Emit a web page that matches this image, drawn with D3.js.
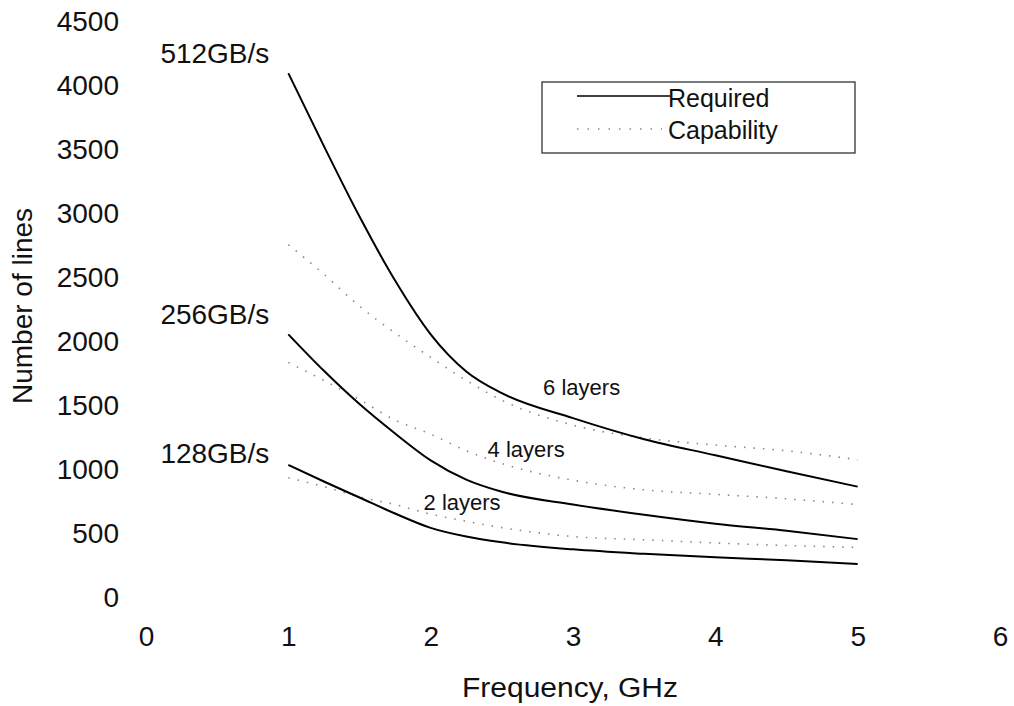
<!DOCTYPE html>
<html>
<head lang="en">
    <meta charset="UTF-8">
    <title>Number of lines vs frequency</title>
    <script type="text/javascript" src="https://cdn.jsdelivr.net/npm/d3@7/dist/d3.min.js"></script>
    <style>
        body { margin: 0; background: #fff; }
        text { font-family: "Liberation Sans", Arial, sans-serif; fill: #111; }
    </style>
</head>
<body>
<div class="holder"></div>

<script>
    // values
    var freq = [1, 1.25, 1.5, 1.75, 2, 2.25, 2.5, 3, 3.5, 4, 4.5, 5];

    var req512 = [4100, 3530, 2980, 2480, 2060, 1770, 1600, 1405, 1240, 1115, 990, 870];
    var req256 = [2060, 1775, 1515, 1285, 1075, 925, 830, 730, 650, 580, 525, 460];
    var req128 = [1040, 910, 785, 660, 548, 480, 435, 380, 345, 318, 295, 265];

    var cap6 = [2760, 2530, 2280, 2070, 1880, 1700, 1545, 1350, 1250, 1195, 1150, 1080];
    var cap4 = [1840, 1700, 1550, 1390, 1280, 1150, 1050, 920, 845, 810, 775, 730];
    var cap2 = [940, 870, 790, 730, 655, 600, 550, 480, 455, 430, 410, 395];

    var xTicks = [0, 1, 2, 3, 4, 5, 6];
    var yTicks = [0, 500, 1000, 1500, 2000, 2500, 3000, 3500, 4000, 4500];

    var rateLabels = [
        {text: "512GB/s", x: 1, y: 4258},
        {text: "256GB/s", x: 1, y: 2219},
        {text: "128GB/s", x: 1, y: 1133}
    ];
    var layerLabels = [
        {text: "6 layers", x: 2.79, y: 1648},
        {text: "4 layers", x: 2.40, y: 1164},
        {text: "2 layers", x: 1.95, y: 750}
    ];

    var svg = d3.select(".holder")
            .append("svg")
            .attr("width", 1014)
            .attr("height", 706);

    var x = d3.scaleLinear().domain([0, 6]).range([146, 1000]);
    var y = d3.scaleLinear().domain([0, 4500]).range([598, 22]);

    // axes: labels only, no lines
    svg.append("g")
            .attr("transform", "translate(119,0)")
            .call(d3.axisLeft(y).tickValues(yTicks).tickSize(0).tickPadding(0).tickFormat(d3.format("d")));
    svg.append("g")
            .attr("transform", "translate(0,626)")
            .call(d3.axisBottom(x).tickValues(xTicks).tickSize(0).tickPadding(0).tickFormat(d3.format("d")));
    svg.selectAll(".domain").remove();
    svg.selectAll(".tick text")
            .attr("font-family", "Liberation Sans, Arial, sans-serif")
            .attr("font-size", 28)
            .attr("fill", "#111");

    svg.append("text")
            .attr("x", 570)
            .attr("y", 697)
            .attr("text-anchor", "middle")
            .attr("font-size", 27)
            .attr("textLength", 216)
            .attr("lengthAdjust", "spacingAndGlyphs")
            .text("Frequency, GHz");

    svg.append("text")
            .attr("transform", "translate(32,306) rotate(-90)")
            .attr("text-anchor", "middle")
            .attr("font-size", 28)
            .text("Number of lines");

    var line = d3.line()
            .x(function(d) { return x(d[0]); })
            .y(function(d) { return y(d[1]); })
            .curve(d3.curveMonotoneX);

    function pairs(vals) {
        return freq.map(function(f, i) { return [f, vals[i]]; });
    }

    // capability (dotted) first, required (solid) on top
    [cap6, cap4, cap2].forEach(function(s) {
        svg.append("path")
                .attr("d", line(pairs(s)))
                .attr("fill", "none")
                .attr("stroke", "#888")
                .attr("stroke-width", 1.6)
                .attr("stroke-dasharray", "1.5,8");
    });
    [req512, req256, req128].forEach(function(s) {
        svg.append("path")
                .attr("d", line(pairs(s)))
                .attr("fill", "none")
                .attr("stroke", "#000")
                .attr("stroke-width", 2);
    });

    svg.selectAll(".rate")
            .data(rateLabels)
            .enter()
            .append("text")
            .attr("class", "rate")
            .attr("x", function(d) { return x(d.x) - 19; })
            .attr("y", function(d) { return y(d.y); })
            .attr("dy", "0.35em")
            .attr("text-anchor", "end")
            .attr("font-size", 28)
            .text(function(d) { return d.text; });

    svg.selectAll(".layer")
            .data(layerLabels)
            .enter()
            .append("text")
            .attr("class", "layer")
            .attr("x", function(d) { return x(d.x); })
            .attr("y", function(d) { return y(d.y); })
            .attr("dy", "0.35em")
            .attr("font-size", 22)
            .text(function(d) { return d.text; });

    // legend
    var legend = svg.append("g");
    legend.append("rect")
            .attr("x", 542).attr("y", 82)
            .attr("width", 313).attr("height", 71)
            .attr("fill", "none")
            .attr("stroke", "#222")
            .attr("stroke-width", 1.2);
    legend.append("line")
            .attr("x1", 577).attr("x2", 670)
            .attr("y1", 96).attr("y2", 96)
            .attr("stroke", "#000").attr("stroke-width", 1.6);
    legend.append("line")
            .attr("x1", 577).attr("x2", 662)
            .attr("y1", 129).attr("y2", 129)
            .attr("stroke", "#888").attr("stroke-width", 1.6)
            .attr("stroke-dasharray", "1.5,9");
    legend.append("text")
            .attr("x", 668).attr("y", 98)
            .attr("dy", "0.35em")
            .attr("font-size", 25)
            .text("Required");
    legend.append("text")
            .attr("x", 668).attr("y", 130)
            .attr("dy", "0.35em")
            .attr("font-size", 25)
            .text("Capability");
</script>
</body>
</html>
